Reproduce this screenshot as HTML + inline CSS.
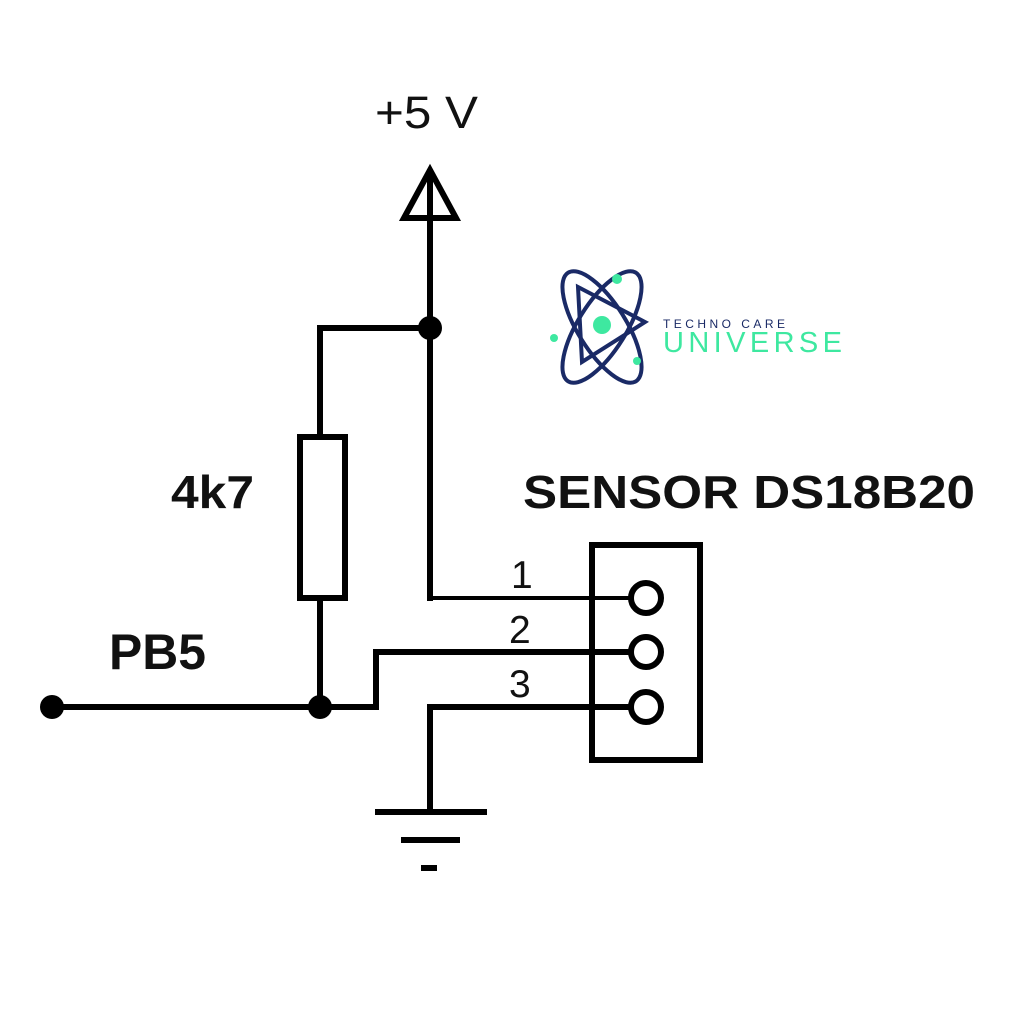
<!DOCTYPE html>
<html><head><meta charset="utf-8"><style>html,body{margin:0;padding:0;background:#fff;}svg{display:block}</style></head>
<body>
<svg width="1024" height="1024" viewBox="0 0 1024 1024" xmlns="http://www.w3.org/2000/svg">
<rect width="1024" height="1024" fill="#fff"/>
<g font-family="Liberation Sans, sans-serif" fill="#111">
<text x="375" y="128" font-size="45" textLength="103" lengthAdjust="spacingAndGlyphs">+5 V</text>
<text x="171" y="508" font-size="46" font-weight="bold" textLength="83" lengthAdjust="spacingAndGlyphs">4k7</text>
<text x="109" y="669" font-size="50" font-weight="bold" textLength="97" lengthAdjust="spacingAndGlyphs">PB5</text>
<text x="523" y="508" font-size="46" font-weight="bold" textLength="452" lengthAdjust="spacingAndGlyphs">SENSOR DS18B20</text>
<text x="511" y="588" font-size="39">1</text>
<text x="509" y="643" font-size="39">2</text>
<text x="509" y="697" font-size="39">3</text>
</g>
<g stroke="#000" fill="none" stroke-width="6" stroke-linecap="square">
<polygon points="430,170 404,218 456,218" stroke-linejoin="miter"/>
<line x1="430" y1="172" x2="430" y2="598"/>
<polyline points="430,328 320,328 320,436"/>
<rect x="300" y="437" width="45" height="161"/>
<line x1="320" y1="600" x2="320" y2="707"/>
<polyline points="52,707 376,707 376,652 628,652"/>
<polyline points="430,812 430,707 628,707"/>
<rect x="592" y="545" width="108" height="215"/>
<circle cx="646" cy="598" r="15"/>
<circle cx="646" cy="652" r="15"/>
<circle cx="646" cy="707" r="15"/>
<line x1="378" y1="812" x2="484" y2="812"/>
<line x1="404" y1="840" x2="457" y2="840"/>
<line x1="424" y1="868" x2="434" y2="868"/>
</g>
<line x1="430" y1="598" x2="630" y2="598" stroke="#000" stroke-width="4"/>
<g fill="#000">
<circle cx="430" cy="328" r="12"/>
<circle cx="320" cy="707" r="12"/>
<circle cx="52" cy="707" r="12"/>
</g>
<!-- logo -->
<g fill="none" stroke="#1a2a66" stroke-width="4">
<ellipse cx="602" cy="327" rx="64" ry="24" transform="rotate(-58 602 327)"/>
<ellipse cx="602" cy="327" rx="64" ry="24" transform="rotate(58 602 327)"/>
<path d="M578,287 L582,362 L645,322 Z" stroke-width="4"/>
</g>
<g fill="#3ee8a0">
<circle cx="602" cy="325" r="9"/>
<circle cx="617" cy="279" r="5"/>
<circle cx="554" cy="338" r="4"/>
<circle cx="637" cy="361" r="4"/>
</g>
<g font-family="Liberation Sans, sans-serif">
<text x="663" y="328" font-size="12" fill="#1a2a66" textLength="122" lengthAdjust="spacing">TECHNO CARE</text>
<text x="663" y="352" font-size="29" fill="#3ee8a0" textLength="179" lengthAdjust="spacing">UNIVERSE</text>
</g>
</svg>
</body></html>
